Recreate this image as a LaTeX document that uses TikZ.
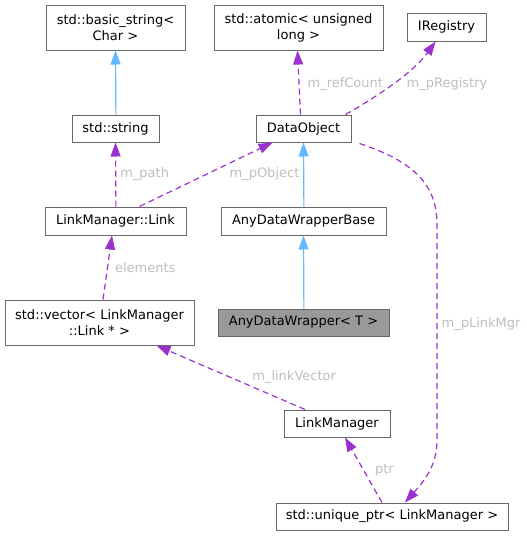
\documentclass[tikz,border=0pt]{standalone}
\usepackage{fontspec}
\setmainfont{DejaVu Sans}
\usetikzlibrary{arrows.meta, calc}

\definecolor{edgepurple}{HTML}{9A32CD}
\definecolor{edgeblue}{HTML}{63B8FF}
\definecolor{boxborder}{HTML}{666666}
\definecolor{boxfocus}{HTML}{999999}
\definecolor{labelgrey}{HTML}{BEBEBE}

\begin{document}
\begin{tikzpicture}[
    x=1pt, y=-1pt,
    font=\fontsize{13}{16}\selectfont,
    cls/.style={draw=boxborder, line width=1pt, fill=white, inner sep=0pt, align=center},
    member/.style={draw=edgepurple, line width=1.2pt, dash pattern=on 6pt off 4pt,
        -{Triangle[length=14pt, width=10pt]}},
    inherit/.style={draw=edgeblue, line width=1.2pt, -{Triangle[length=14pt, width=10pt]}},
    elabel/.style={text=labelgrey, inner sep=2pt},
]
\useasboundingbox (0,0) rectangle (527,536);

% --- Classes ---
\node[cls, minimum width=139pt, minimum height=45pt] (bstr) at (115.5,27.5) {std::basic\_string<\\Char >};
\node[cls, minimum width=169pt, minimum height=45pt] (atomic) at (298.5,27.5) {std::atomic< unsigned\\long >};
\node[cls, minimum width=79pt, minimum height=28pt] (ireg) at (446.5,27) {IRegistry};
\node[cls, minimum width=87pt, minimum height=27pt] (str) at (115.5,128.5) {std::string};
\node[cls, minimum width=95pt, minimum height=27pt] (dobj) at (303.5,128.5) {DataObject};
\node[cls, minimum width=141pt, minimum height=28pt] (link) at (115.5,221) {LinkManager::Link};
\node[cls, minimum width=165pt, minimum height=28pt] (adwb) at (303.5,221) {AnyDataWrapperBase};
\node[cls, minimum width=189pt, minimum height=45pt] (vec) at (99.5,322.5) {std::vector< LinkManager\\::Link * >};
\node[cls, fill=boxfocus, minimum width=171pt, minimum height=27pt] (adw) at (303.5,322.5) {AnyDataWrapper< T >};
\node[cls, minimum width=106pt, minimum height=27pt] (lmgr) at (337,423.5) {LinkManager};
\node[cls, minimum width=232pt, minimum height=27pt] (uptr) at (392,516.5) {std::unique\_ptr< LinkManager >};

% --- Inheritance ---
\draw[inherit] ($(str.north)+(0.4,0)$) -- (bstr.south);
\draw[inherit] ($(adwb.north)+(0.4,0)$) -- (dobj.south);
\draw[inherit] ($(adw.north)+(0.4,0)$) -- (adwb.south);

% --- Members ---
\draw[member] ($(dobj.north)+(-3,0)$) -- node[elabel, midway, right=6pt, yshift=-2pt] (lrefcount) {m\_refCount} ($(atomic.south)+(-1,0)$);
\draw[member] ($(dobj.north)+(42,0)$) .. controls (385,92) and (415,70) ..
    node[elabel, pos=0.45, right=11pt] (lregistry) {m\_pRegistry} ($(ireg.south)+(-11,0)$);
\draw[member] ($(link.north)+(0.4,0)$) -- node[elabel, midway, right=2pt] (lpath) {m\_path} (str.south);
\draw[member] ($(link.north)+(24,0)$) -- node[elabel, midway, right=21pt] (lpobject) {m\_pObject} ($(dobj.south)+(-31,0)$);
\draw[member] ($(vec.north)+(3.5,0)$) -- node[elabel, midway, right=5pt] (lelements) {elements} ($(link.south)+(-3.5,0)$);
\draw[member] ($(lmgr.north)+(-32,0)$) -- node[elabel, midway, right=19pt] (llinkvector) {m\_linkVector} ($(vec.south)+(57,0)$);
\draw[member] ($(uptr.north)+(-10,0)$) -- node[elabel, midway, right=9pt] (lptr) {ptr} ($(lmgr.south)+(8,0)$);
\draw[member] ($(dobj.south east)+(8,1)$) .. controls (415,162) and (437,185) .. (437,225)
    -- node[elabel, pos=0.46, right=2pt] (llinkmgr) {m\_pLinkMgr} (437,440)
    .. controls (437,465) and (425,480) .. ($(uptr.north)+(13,0)$);

\end{tikzpicture}
\end{document}
